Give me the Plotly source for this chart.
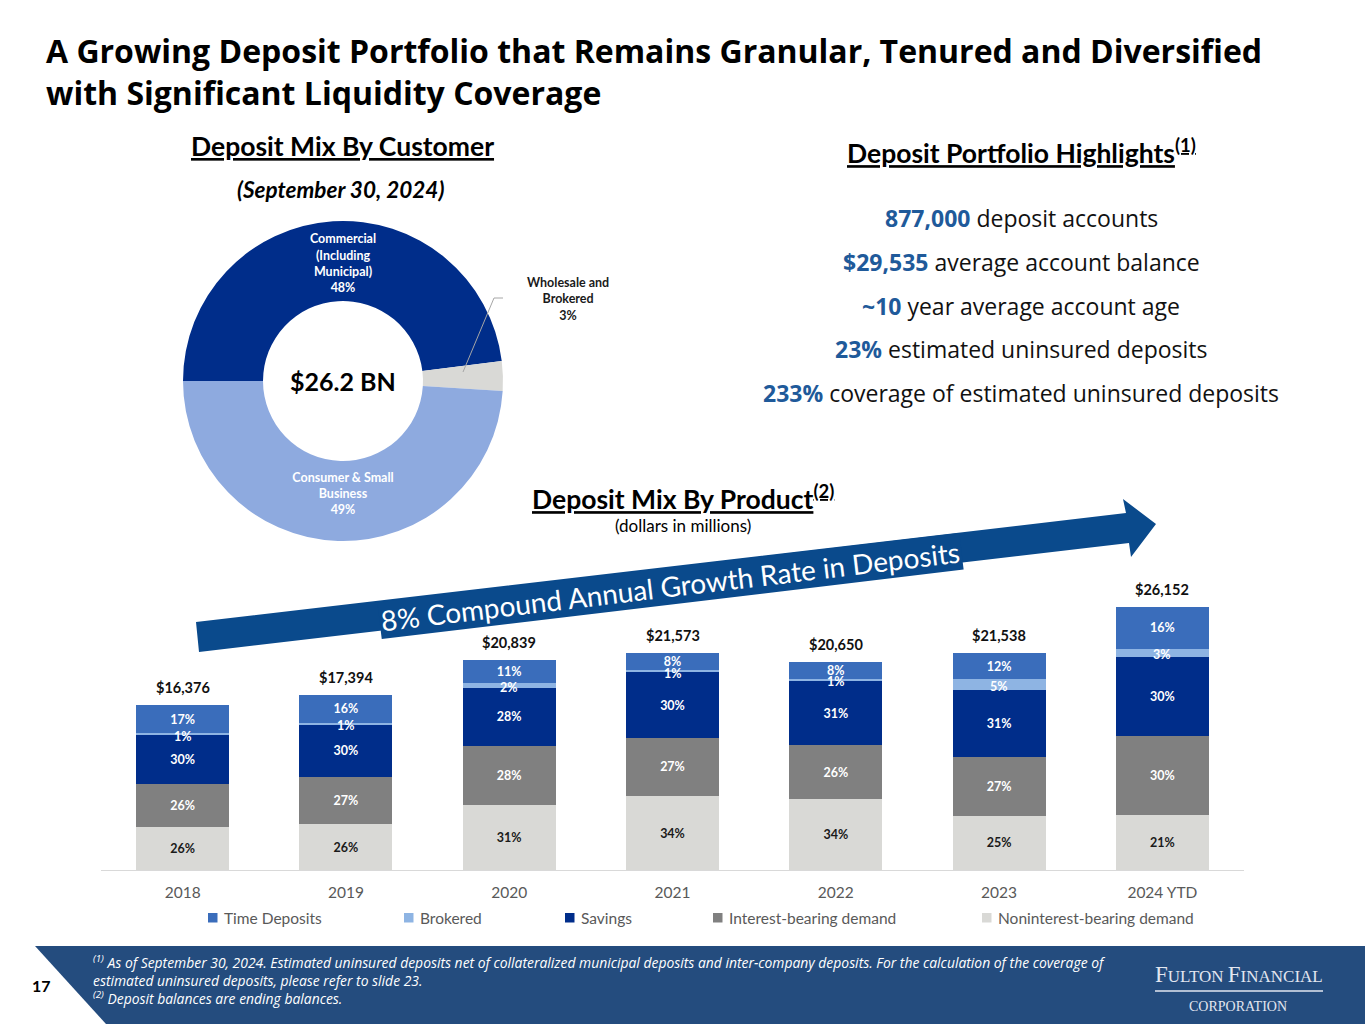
import plotly.graph_objects as go

W, H = 1365, 1024


def px(x):
    return x / W


def py(y):
    return 1 - y / H


# ---------------- data ----------------
years = ["2018", "2019", "2020", "2021", "2022", "2023", "2024 YTD"]
totals = [16376, 17394, 20839, 21573, 20650, 21538, 26152]

pct_noninterest = [26, 26, 31, 34, 34, 25, 21]
pct_interest = [26, 27, 28, 27, 26, 27, 30]
pct_savings = [30, 30, 28, 30, 31, 31, 30]
pct_brokered = [1, 1, 2, 1, 1, 5, 3]
pct_time = [17, 16, 11, 8, 8, 12, 16]

series_names = ["Noninterest-bearing demand", "Interest-bearing demand", "Savings",
                "Brokered", "Time Deposits"]
series_pcts = [pct_noninterest, pct_interest, pct_savings, pct_brokered, pct_time]

mix_labels = ["Commercial<br>(Including<br>Municipal)", "Wholesale and<br>Brokered",
              "Consumer & Small<br>Business"]
mix_values = [48, 3, 49]
mix_total = "$26.2 BN"

highlight_values = ["877,000", "$29,535", "~10", "23%", "233%"]
highlight_texts = ["deposit accounts", "average account balance", "year average account age",
                   "estimated uninsured deposits", "coverage of estimated uninsured deposits"]

title_text = ("A Growing Deposit Portfolio that Remains Granular, Tenured and Diversified"
              "<br>with Significant Liquidity Coverage")

# ---------------- styles ----------------
series_colors = ["#D9D9D6", "#808080", "#002D8A", "#8EB4E3", "#3A6DBB"]
series_text_colors = ["#1A1A1A", "white", "white", "white", "white"]
legend_x = [982, 713, 565, 404, 208]          # legend key left edge (px) per series
mix_colors = ["#002D8A", "#D9D9D6", "#8EAADF"]
NAVY_TXT = "#1F5A9A"
FOOTER = "#244C7E"
ARROW = "#0A4A8C"
LOGO = "#E2E6F0"
F_CAL = "Lato"
F_SEG = "Open Sans"

fig = go.Figure()

# ---------------- stacked bars ----------------
cum = [0.0] * len(years)
thin_labels = []
for name, pcts, col, tcol in zip(series_names, series_pcts, series_colors, series_text_colors):
    vals = [t * p / 100 for t, p in zip(totals, pcts)]
    thin = name == "Brokered"
    fig.add_trace(go.Bar(
        x=years, y=vals, name=name, marker=dict(color=col, line=dict(width=0)),
        text=None if thin else [f"{p}%" for p in pcts],
        textposition="inside", insidetextanchor="middle",
        textangle=0, constraintext="none",
        textfont=dict(family=F_CAL, size=12.5, color=tcol, weight="bold"),
        hoverinfo="skip", showlegend=False,
    ))
    if thin:
        thin_labels = [(i, c + v / 2, p) for i, (c, v, p) in enumerate(zip(cum, vals, pcts))]
    cum = [c + v for c, v in zip(cum, vals)]

# thin-segment labels drawn on top so the next segment does not cover them
for i, ymid, p in thin_labels:
    fig.add_annotation(x=i, y=ymid, xref="x", yref="y", text=f"<b>{p}%</b>",
                       showarrow=False, xanchor="center", yanchor="middle", yshift=-2,
                       font=dict(family=F_CAL, size=12.5, color="white"))

# totals above bars (x given as category index)
for i, t in enumerate(totals):
    fig.add_annotation(x=i, y=t, xref="x", yref="y", text=f"<b>${t:,}</b>",
                       showarrow=False, xanchor="center", yanchor="bottom", yshift=7,
                       font=dict(family=F_CAL, size=14.5, color="#111111"))

# ---------------- donut ----------------
fig.add_trace(go.Pie(
    labels=mix_labels, values=mix_values, hole=0.5, sort=False,
    direction="clockwise", rotation=270,
    marker=dict(colors=mix_colors, line=dict(width=0)),
    text=[f"{l}<br>{v}%" for l, v in zip(mix_labels, mix_values)],
    textinfo="text", textposition=["inside", "none", "inside"],
    insidetextorientation="horizontal",
    textfont=dict(family=F_CAL, size=12.5, color="white", weight="bold"),
    domain=dict(x=[px(183), px(503)], y=[py(541), py(221)]),
    showlegend=False, hoverinfo="skip",
))

ann = []
ann.append(dict(x=px(343), y=py(381), text=f"<b>{mix_total}</b>",
                font=dict(family=F_CAL, size=25, color="#000000")))
ann.append(dict(x=px(568), y=py(299), text=f"<b>{mix_labels[1]}<br>{mix_values[1]}%</b>",
                font=dict(family=F_CAL, size=12.5, color="#1A1A1A")))

# ---------------- text blocks ----------------
ann.append(dict(x=px(44), y=py(27), xanchor="left", yanchor="top", align="left",
                text=f"<b>{title_text}</b>",
                font=dict(family=F_SEG, size=32, color="#000000")))
ann.append(dict(x=px(342), y=py(146), text="<b><u>Deposit Mix By Customer</u></b>",
                font=dict(family=F_CAL, size=26.5, color="#000000")))
ann.append(dict(x=px(340), y=py(189), text="<b><i>(September 30, 2024)</i></b>",
                font=dict(family=F_CAL, size=22.5, color="#000000")))
ann.append(dict(x=px(1021), y=py(151), text="<b><u>Deposit Portfolio Highlights<sup>(1)</sup></u></b>",
                font=dict(family=F_CAL, size=26.5, color="#000000")))
ann.append(dict(x=px(683), y=py(497), text="<b><u>Deposit Mix By Product<sup>(2)</sup></u></b>",
                font=dict(family=F_CAL, size=26.5, color="#000000")))
ann.append(dict(x=px(683), y=py(525), text="(dollars in millions)",
                font=dict(family=F_CAL, size=17, color="#000000")))
for i, (v, t) in enumerate(zip(highlight_values, highlight_texts)):
    ann.append(dict(x=px(1021), y=py(218 + 43.8 * i),
                    text=f"<span style='color:{NAVY_TXT}'><b>{v}</b></span> {t}",
                    font=dict(family=F_SEG, size=23, color="#111111")))
ann.append(dict(x=px(670), y=py(586), text="8% Compound Annual Growth Rate in Deposits",
                textangle=-6.8, bgcolor=ARROW, borderpad=1,
                font=dict(family=F_CAL, size=28, color="white")))
# legend (manual keys + labels)
for name, col, lx in zip(series_names, series_colors, legend_x):
    ann.append(dict(x=px(lx + 14), y=py(918), xanchor="left", text=name,
                    font=dict(family=F_CAL, size=15.5, color="#595959")))
# footer
ann.append(dict(x=px(91), y=py(950), xanchor="left", yanchor="top", align="left",
                text="<i><sup>(1)</sup> As of September 30, 2024. Estimated uninsured deposits net of collateralized "
                     "municipal deposits and inter-company deposits. For the calculation of the coverage of"
                     "<br>estimated uninsured deposits, please refer to slide 23."
                     "<br><sup>(2)</sup> Deposit balances are ending balances.</i>",
                font=dict(family=F_SEG, size=13.9, color="white")))
ann.append(dict(x=px(41), y=py(985), text="<b>17</b>",
                font=dict(family=F_CAL, size=16, color="#000000")))
ann.append(dict(x=px(1239), y=py(974),
                text="<span style='font-size:23px'>F</span>ULTON <span style='font-size:23px'>F</span>INANCIAL",
                font=dict(family="Liberation Serif", size=17, color=LOGO)))
ann.append(dict(x=px(1238), y=py(1006), text="CORPORATION",
                font=dict(family="Liberation Serif", size=14, color=LOGO)))
for a in ann:
    a.setdefault("xref", "paper")
    a.setdefault("yref", "paper")
    a.setdefault("xanchor", "center")
    a.setdefault("yanchor", "middle")
    a.setdefault("showarrow", False)
    fig.add_annotation(**a)


# ---------------- shapes ----------------
def path(pts):
    return "M " + " L ".join(f"{px(x)},{py(y)}" for x, y in pts) + " Z"


shapes = [
    dict(type="path", path=path([(196, 622), (1126, 513), (1123, 499), (1156, 524),
                                 (1131, 557), (1129, 543), (199, 652)]),
         fillcolor=ARROW, line=dict(width=0), layer="below"),
    dict(type="path", path=path([(35, 946), (1365, 946), (1365, 1024), (106, 1024)]),
         fillcolor=FOOTER, line=dict(width=0), layer="below"),
    dict(type="path", path=f"M {px(463)},{py(372)} L {px(494)},{py(298)} L {px(503)},{py(298)}",
         line=dict(color="#A6A6A6", width=1)),
    dict(type="line", x0=px(1155), x1=px(1323), y0=py(991), y1=py(991),
         line=dict(color=LOGO, width=1.5)),
]
for col, lx in zip(series_colors, legend_x):
    shapes.append(dict(type="rect", x0=px(lx), x1=px(lx + 9.5), y0=py(922.5), y1=py(913),
                       fillcolor=col, line=dict(width=0)))
for s in shapes:
    s.setdefault("xref", "paper")
    s.setdefault("yref", "paper")
    fig.add_shape(**s)

fig.update_layout(
    width=W, height=H, margin=dict(l=0, r=0, t=0, b=0, pad=0),
    paper_bgcolor="white", plot_bgcolor="rgba(0,0,0,0)",
    barmode="stack", bargap=0.43,
    font=dict(family=F_CAL),
    xaxis=dict(type="category", categoryorder="array", categoryarray=years,
               range=[-0.5, len(years) - 0.5], domain=[px(101), px(1244)],
               showgrid=False, zeroline=False,
               showline=True, linecolor="#D9D9D9", linewidth=1, ticks="",
               tickfont=dict(family=F_CAL, size=15.5, color="#595959"),
               ticklabelstandoff=8, fixedrange=True),
    yaxis=dict(domain=[py(870), py(588.3)], range=[0, 28000], visible=False,
               fixedrange=True),
    showlegend=False,
)

fig.write_html("out.html", include_plotlyjs=True, config={"displayModeBar": False},
               post_script="document.body.style.margin='0';document.body.style.overflow='hidden';")
